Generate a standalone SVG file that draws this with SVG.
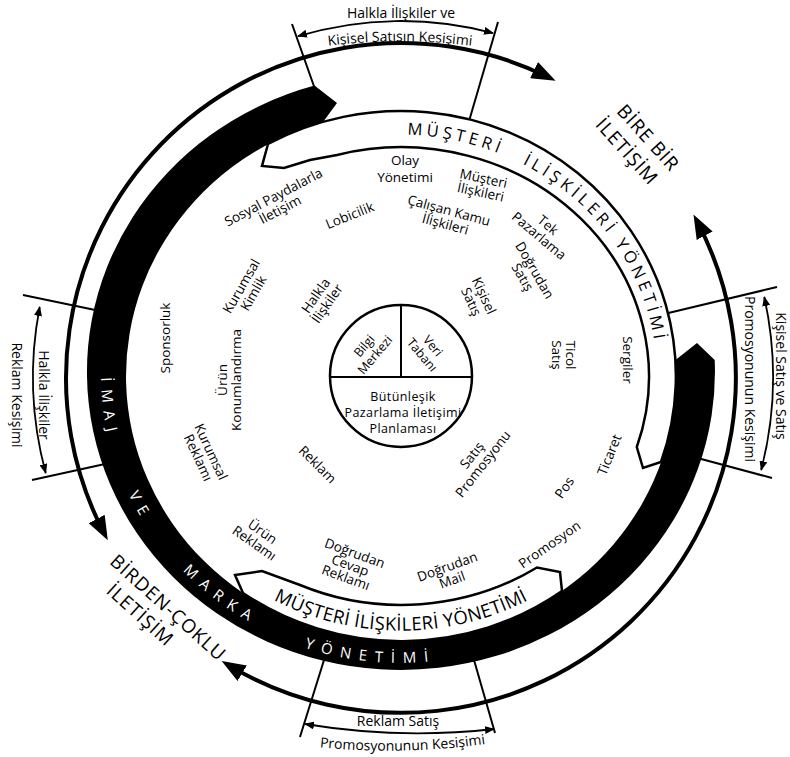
<svg xmlns="http://www.w3.org/2000/svg" width="790" height="757" viewBox="0 0 790 757">
<style>
text{font-family:"Open Sans","DejaVu Sans",sans-serif;fill:#000}
.lb{font-size:13.5px;text-anchor:middle}
.ks{font-size:14px;text-anchor:middle}
.big{font-size:19px;text-anchor:middle;letter-spacing:1px}
.crm{font-size:16.5px;text-anchor:middle;letter-spacing:4px}
.crm2{font-size:18.5px;text-anchor:middle;letter-spacing:0.3px}
.imb{font-size:15px;text-anchor:middle;letter-spacing:8px;fill:#fff}
.ln{stroke:#000;stroke-width:2;fill:none}
.arc{stroke:#000;stroke-width:4;fill:none;marker-start:url(#ah);marker-end:url(#ah)}
.sarc{stroke:#000;stroke-width:1.8;fill:none;marker-start:url(#sh);marker-end:url(#sh)}
.band{fill:#fff;stroke:#000;stroke-width:2.5}
</style>
<defs>
<marker id="ah" viewBox="0 0 24 18" refX="16" refY="9" markerWidth="24" markerHeight="18" markerUnits="userSpaceOnUse" orient="auto-start-reverse"><path d="M0,0 L24,9 L0,18 Z" fill="#000"/></marker>
<marker id="sh" viewBox="0 0 10 8" refX="9" refY="4" markerWidth="10" markerHeight="8" markerUnits="userSpaceOnUse" orient="auto-start-reverse"><path d="M0,0 L10,4 L0,8 Z" fill="#000"/></marker>
<path id="pm1" d="M375.1,135.8 A256 241 0 0 1 530.7,168.6"/>
<path id="pm2" d="M503.1,155 A256 241 0 0 1 621.6,253.7"/>
<path id="pm3" d="M601.3,226 A256 241 0 0 1 656.8,365.5"/>
<path id="pb" d="M247.3,584.5 A268 255 0 0 0 554.7,584.5"/>
<path id="pi" d="M103.9,334.1 A300 287 0 0 0 122.8,481.5"/>
<path id="pv" d="M108.7,438.6 A300 287 0 0 0 181.6,569.7"/>
<path id="pmk" d="M146.6,526.1 A300 287 0 0 0 308.3,646.9"/>
<path id="py" d="M250.5,624.2 A301 289 0 0 0 494,648.8"/>
<path id="pk1" d="M300,50 A580 580 0 0 1 500,50"/>
<path id="pk2" d="M300,745 A700 700 0 0 0 505,741"/>
</defs>
<rect width="790" height="757" fill="#fff"/>

<g id="connectors">
<path class="ln" d="M292,24 L316,92"/>
<path class="ln" d="M498,22 L467,128"/>
<path class="ln" d="M777,287 L660,315"/>
<path class="ln" d="M772,478 L690,456"/>
<path class="ln" d="M23,295 L100,311"/>
<path class="ln" d="M32,480 L105,464"/>
<path class="ln" d="M300,737 L324,660"/>
<path class="ln" d="M495,733 L474,660"/>
<path class="arc" d="M104.1,533.2 A335 335 0 0 1 548.4,77.2"/>
<path class="arc" d="M697.2,221.6 A335 335 0 0 1 228.5,665.1"/>
<path class="sarc" d="M298,36.2 A356 356 0 0 1 493,33.1"/>
<path class="sarc" d="M764.3,297 A372 372 0 0 1 761.2,470"/>
<path class="sarc" d="M39.7,307 A368 368 0 0 0 45.7,473"/>
<path class="sarc" d="M305,724 A687 687 0 0 0 494,729"/>
</g>

<g id="crm-top">
<path class="band" d="M268,144 L262,166 L284,168 L310,160 L337,155 A248 229 0 0 1 636.8,447 L643,468 L661,462 A275 265 0 0 0 268,144 Z"/>
<text class="crm"><textPath href="#pm1" startOffset="50%">MÜŞTERİ</textPath></text>
<text class="crm"><textPath href="#pm2" startOffset="50%">İLİŞKİLERİ</textPath></text>
<text class="crm"><textPath href="#pm3" startOffset="50%">YÖNETİMİ</textPath></text>
</g>
<g id="crm-bottom">
<path class="band" d="M243,593 L235,575 L262,571 L300,585 A248 229 0 0 0 537,567.5 L560,572 L562,591 A275 265 0 0 1 243,593 Z"/>
<text class="crm2"><textPath href="#pb" startOffset="50%">MÜŞTERİ İLİŞKİLERİ YÖNETİMİ</textPath></text>
</g>
<g id="imaj-marka">
<path fill="#000" d="M314.5,85.5 A314 298 0 1 0 714.7,360 L697,343 L675.5,360 A275 265 0 1 1 323,122 L337,103 Z"/>
<text class="imb"><textPath href="#pi" startOffset="50%">İMAJ</textPath></text>
<text class="imb"><textPath href="#pv" startOffset="50%">VE</textPath></text>
<text class="imb"><textPath href="#pmk" startOffset="50%">MARKA</textPath></text>
<text class="imb"><textPath href="#py" startOffset="50%">YÖNETİMİ</textPath></text>
</g>

<g id="center">
<circle cx="401" cy="376" r="71" fill="#fff" stroke="#000" stroke-width="2.5"/>
<path class="ln" d="M330,377 H472 M401,305 V377" stroke-width="2.5"/>
<text class="lb" style="font-size:12.5px" transform="translate(369,350) rotate(-50)"><tspan x="0" y="-2">Bilgi</tspan><tspan x="0" y="12">Merkezi</tspan></text>
<text class="lb" style="font-size:12.5px" transform="translate(428,350) rotate(50)"><tspan x="0" y="-2">Veri</tspan><tspan x="0" y="12">Tabanı</tspan></text>
<text class="lb" style="font-size:12.5px;letter-spacing:0.4px"><tspan x="403" y="401">Bütünleşik</tspan><tspan x="403" y="417">Pazarlama İletişimi</tspan><tspan x="403" y="433">Planlaması</tspan></text>
</g>

<g id="labels">
<g id="n-olay"><text class="lb" transform="translate(405,168)"><tspan x="0" y="-3">Olay</tspan><tspan x="0" y="14">Yönetimi</tspan></text></g>
<g id="n-musteri"><text class="lb" transform="translate(482,186) rotate(12)"><tspan x="0" y="-3">Müşteri</tspan><tspan x="0" y="11">İlişkileri</tspan></text></g>
<g id="n-calisan"><text class="lb" transform="translate(447,218) rotate(15)"><tspan x="0" y="-3">Çalışan Kamu</tspan><tspan x="0" y="11">İlişkileri</tspan></text></g>
<g id="n-tek"><text class="lb" transform="translate(543,231) rotate(40)"><tspan x="0" y="-3">Tek</tspan><tspan x="0" y="11">Pazarlama</tspan></text></g>
<g id="n-dogsat"><text class="lb" transform="translate(528,274) rotate(60)"><tspan x="0" y="-3">Doğrudan</tspan><tspan x="0" y="11">Satış</tspan></text></g>
<g id="n-kisisel"><text class="lb" transform="translate(477,299) rotate(65)"><tspan x="0" y="-3">Kişisel</tspan><tspan x="0" y="11">Satış</tspan></text></g>
<g id="n-ticol"><text class="lb" transform="translate(563,355) rotate(90)"><tspan x="0" y="-3">Ticol</tspan><tspan x="0" y="11">Satış</tspan></text></g>
<g id="n-sergiler"><text class="lb" transform="translate(627,360) rotate(90)" y="4">Sergiler</text></g>
<g id="n-sosyal"><text class="lb" transform="translate(277,204) rotate(-28)"><tspan x="0" y="-3">Sosyal Paydalarla</tspan><tspan x="0" y="11">İletişim</tspan></text></g>
<g id="n-lobi"><text class="lb" transform="translate(350,216) rotate(-22)" y="4">Lobicilik</text></g>
<g id="n-kimlik"><text class="lb" transform="translate(248,290) rotate(-60)"><tspan x="0" y="-3">Kurumsal</tspan><tspan x="0" y="11">Kimlik</tspan></text></g>
<g id="n-halkla"><text class="lb" transform="translate(322,300) rotate(-55)"><tspan x="0" y="-3">Halkla</tspan><tspan x="0" y="11">İlişkiler</tspan></text></g>
<g id="n-spons"><text class="lb" transform="translate(166,338) rotate(-90)" y="4">Sponsorluk</text></g>
<g id="n-urunkon"><text class="lb" transform="translate(230,380) rotate(-90)"><tspan x="0" y="-3">Ürün</tspan><tspan x="0" y="11">Konumlandırma</tspan></text></g>
<g id="n-kurrek"><text class="lb" transform="translate(204,455) rotate(65)"><tspan x="0" y="-3">Kurumsal</tspan><tspan x="0" y="11">Reklamı</tspan></text></g>
<g id="n-reklam"><text class="lb" transform="translate(317,465) rotate(45)" y="4">Reklam</text></g>
<g id="n-urunrek"><text class="lb" transform="translate(258,538) rotate(35)"><tspan x="0" y="-3">Ürün</tspan><tspan x="0" y="11">Reklamı</tspan></text></g>
<g id="n-dogcev"><text class="lb" transform="translate(350,566) rotate(20)"><tspan x="0" y="-9">Doğrudan</tspan><tspan x="0" y="4">Cevap</tspan><tspan x="0" y="17">Reklamı</tspan></text></g>
<g id="n-dogmail"><text class="lb" transform="translate(450,574) rotate(-20)"><tspan x="0" y="-3">Doğrudan</tspan><tspan x="0" y="11">Mail</tspan></text></g>
<g id="n-promo"><text class="lb" transform="translate(550,545) rotate(-35)" y="4">Promosyon</text></g>
<g id="n-pos"><text class="lb" transform="translate(565,488) rotate(-55)" y="4">Pos</text></g>
<g id="n-ticaret"><text class="lb" transform="translate(610,455) rotate(-68)" y="4">Ticaret</text></g>
<g id="n-satpro"><text class="lb" transform="translate(478,460) rotate(-52)"><tspan x="0" y="-3">Satış</tspan><tspan x="0" y="11">Promosyonu</tspan></text></g>
</g>

<g id="outer-labels">
<text class="big" transform="translate(648.5,137.5) rotate(48)"><tspan x="0" y="7">BİRE BİR</tspan><tspan x="-4" y="32">İLETİŞİM</tspan></text>
<text class="big" transform="translate(168.5,607.5) rotate(42)"><tspan x="0" y="7">BİRDEN-ÇOKLU</tspan><tspan x="-16" y="31">İLETİŞİM</tspan></text>
<text class="ks" x="401" y="18">Halkla İlişkiler ve</text>
<text class="ks"><textPath href="#pk1" startOffset="50%">Kişisel Satışın Kesişimi</textPath></text>
<text class="ks" x="398" y="726">Reklam Satış</text>
<text class="ks"><textPath href="#pk2" startOffset="50%">Promosyonunun Kesişimi</textPath></text>
<text class="ks" transform="translate(745,379) rotate(90)">Promosyonunun Kesişimi</text>
<text class="ks" transform="translate(776,376) rotate(90)">Kişisel Satış ve Satış</text>
<text class="ks" transform="translate(39,395) rotate(90)">Halkla İlişkiler</text>
<text class="ks" transform="translate(12,395) rotate(90)">Reklam Kesişimi</text>
</g>
</svg>
